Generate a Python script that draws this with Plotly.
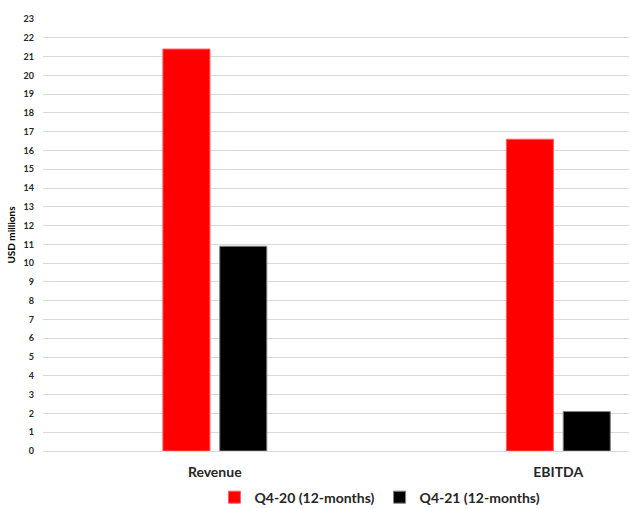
import plotly.graph_objects as go

categories = ["Revenue", "EBITDA"]
series_names = ["Q4-20 (12-months)", "Q4-21 (12-months)"]
q4_20 = [21.4, 16.6]
q4_21 = [10.9, 2.1]
y_ticks = list(range(0, 24))

FONT = "Lato, 'Open Sans', Arial, sans-serif"

fig = go.Figure()
fig.add_trace(go.Bar(
    x=categories, y=q4_20, name=series_names[0],
    marker=dict(color="#ff0000", line=dict(color="#ff6060", width=1)),
    width=0.137, offset=-0.151,
))
fig.add_trace(go.Bar(
    x=categories, y=q4_21, name=series_names[1],
    marker=dict(color="#000000", line=dict(color="#808080", width=1)),
    width=0.137, offset=0.0145,
))

fig.update_layout(
    width=630, height=508,
    margin=dict(l=43, r=1, t=19, b=57, autoexpand=False),
    plot_bgcolor="white", paper_bgcolor="white",
    font=dict(family=FONT, color="#262626"),
    showlegend=True,
    legend=dict(
        orientation="h", x=0.575, xanchor="center",
        yref="container", y=0.052, yanchor="top",
        font=dict(size=14, family=FONT, color="#262626", weight="bold"),
        itemwidth=30, traceorder="normal",
    ),
    xaxis=dict(
        range=[-0.5, 1.206], showgrid=False, zeroline=False, showline=False,
        tickfont=dict(size=14, family=FONT, color="#262626", weight="bold"),
        ticks="", ticklabelstandoff=11, automargin=False,
    ),
    yaxis=dict(
        range=[0, 23], tickvals=y_ticks, showgrid=True, gridcolor="#d9d9d9", gridwidth=1,
        zeroline=True, zerolinecolor="#d9d9d9", zerolinewidth=1, showline=False,
        tickfont=dict(size=9, family=FONT, color="#262626", weight="bold"),
        ticks="", ticklabelstandoff=8, automargin=False,
        title=dict(text="USD millions", font=dict(size=10, family=FONT, color="#000000", weight="bold"), standoff=6),
    ),
)

fig.write_html("out.html")
